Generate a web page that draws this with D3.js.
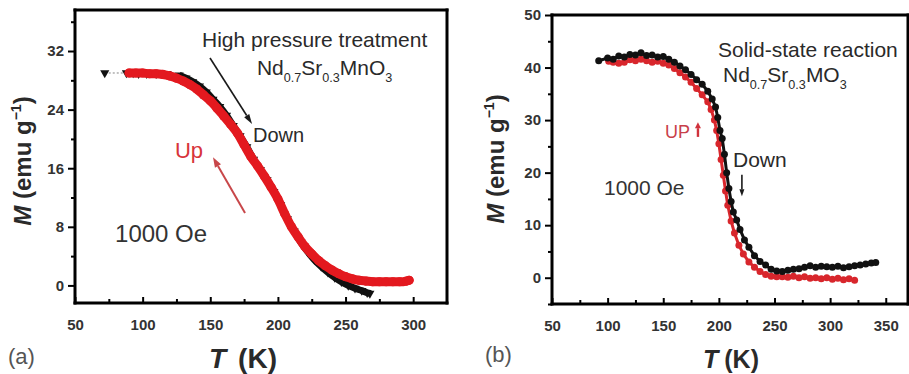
<!DOCTYPE html>
<html>
<head>
<meta charset="utf-8">
<script src="https://cdn.jsdelivr.net/npm/d3@7"></script>
<style>
  html, body { margin: 0; padding: 0; background: #fff; }
  svg { display: block; }
  text { font-family: 'Liberation Sans', Arial, sans-serif; }
</style>
</head>
<body>
<svg id="chart" width="909" height="374"></svg>
<script>
// ---- panel (a): high pressure treatment ----
var upTa = [90, 95, 100, 105, 110, 115, 120, 125, 130, 135, 140, 145, 150, 155, 160, 165, 170, 175, 180, 185,
  190, 195, 200, 205, 210, 215, 220, 225, 230, 235, 240, 245, 250, 255, 260, 265, 270, 275, 280, 285, 290, 295, 297];
var upMa = [29.0, 29.0, 29.0, 28.9, 28.9, 28.8, 28.6, 28.3, 27.9, 27.4, 26.8, 26.0, 25.2, 24.2, 23.1, 22.0, 20.8, 19.2, 17.6, 16.3,
  14.9, 13.4, 11.8, 9.8, 8.0, 6.6, 5.3, 4.3, 3.4, 2.7, 2.1, 1.6, 1.2, 0.9, 0.7, 0.6, 0.5, 0.5, 0.5, 0.5, 0.5, 0.6, 0.7];
var downTa = [72, 88, 93, 97, 103, 110, 118, 127, 132, 137, 142, 147, 152, 157, 162, 167, 172, 177, 182, 187,
  192, 197, 202, 207, 212, 217, 222, 227, 232, 237, 242, 247, 252, 257, 262, 266, 268];
var downMa = [29.0, 29.0, 29.0, 28.9, 28.9, 28.9, 28.9, 28.7, 28.3, 27.8, 27.2, 26.4, 25.4, 24.4, 23.2, 21.8, 20.4, 18.9, 17.2, 15.8,
  14.4, 12.8, 11.0, 9.1, 7.4, 5.9, 4.6, 3.5, 2.6, 1.8, 1.1, 0.5, 0.0, -0.4, -0.7, -1.0, -1.1];
var xTicksA = [50, 100, 150, 200, 250, 300];
var yTicksA = [0, 8, 16, 24, 32];

// ---- panel (b): solid-state reaction ----
var upTb = [101, 105, 110, 115, 120, 125, 130, 135, 140, 145, 150, 155, 160, 165, 170, 175, 180, 185, 190, 193,
  196, 198, 200, 202, 204, 206, 208, 211, 214, 218, 222, 227, 232, 237, 242, 247, 252, 257, 262, 267,
  272, 277, 282, 287, 292, 297, 302, 307, 312, 317, 322];
var upMb = [41.2, 41.0, 40.8, 41.0, 41.5, 41.3, 41.6, 41.3, 41.0, 41.2, 40.8, 40.5, 39.8, 39.0, 38.2, 37.2, 36.0, 34.8, 33.5, 32.0,
  30.0, 28.0, 25.5, 22.5, 19.5, 16.5, 13.8, 10.8, 8.5, 6.2, 4.5, 3.0, 2.0, 1.2, 0.6, 0.3, 0.2, 0.2, 0.1, 0.3,
  0.0, 0.2, -0.1, 0.0, -0.2, 0.0, -0.3, -0.1, -0.4, -0.2, -0.5];
var downTb = [92, 100, 105, 110, 115, 120, 125, 130, 135, 140, 145, 150, 155, 160, 165, 170, 175, 180, 185, 190,
  194, 197, 199, 201, 203, 205, 207, 209, 211, 213, 216, 219, 223, 227, 232, 237, 242, 247, 252, 257,
  262, 267, 272, 277, 282, 287, 292, 297, 302, 307, 312, 317, 322, 327, 332, 337, 341];
var downMb = [41.3, 41.8, 41.6, 42.2, 42.0, 42.5, 42.4, 42.8, 42.3, 42.4, 42.0, 42.1, 41.6, 41.0, 40.3, 39.6, 38.7, 37.7, 36.8, 35.5,
  34.0, 32.5, 30.5, 28.0, 26.5, 23.5, 20.0, 17.0, 14.5, 12.5, 11.0, 9.2, 7.2, 5.8, 4.2, 3.1, 2.4, 1.6, 1.3, 1.2,
  1.4, 1.6, 1.7, 2.0, 2.3, 2.0, 2.2, 2.1, 2.0, 2.2, 1.9, 2.1, 2.3, 2.4, 2.6, 2.8, 2.9];
var xTicksB = [50, 100, 150, 200, 250, 300, 350];
var yTicksB = [0, 10, 20, 30, 40, 50];

var RED = "#e3191f", RED_B = "#d8262c", INK = "#2a2a2a";

var svg = d3.select("#chart");

function zip(T, M) { return T.map(function (t, i) { return { t: t, m: M[i] }; }); }

function arrow(g, x1, y1, x2, y2, color, w, hl, hw) {
  var a = Math.atan2(y2 - y1, x2 - x1);
  var bx = x2 - hl * Math.cos(a), by = y2 - hl * Math.sin(a);
  g.append("line").attr("x1", x1).attr("y1", y1).attr("x2", bx).attr("y2", by)
    .attr("stroke", color).attr("stroke-width", w);
  var px = -Math.sin(a) * hw / 2, py = Math.cos(a) * hw / 2;
  g.append("path").attr("fill", color)
    .attr("d", "M" + x2 + "," + y2 + "L" + (bx + px) + "," + (by + py) + "L" + (bx - px) + "," + (by - py) + "Z");
}

function formula(g, x, y, size, parts) {
  // parts: [text, isSub, dy]
  var t = g.append("text").attr("x", x).attr("y", y).attr("font-size", size).attr("fill", INK);
  parts.forEach(function (p) {
    if (p[1]) t.append("tspan").attr("font-size", size * 0.6).attr("dy", 7).text(p[0]);
    else t.append("tspan").attr("dy", p[2] || 0).text(p[0]);
  });
  return t;
}

function axes(g, x, y, xTicks, yTicks, xMinor, yMinor) {
  var X = x.range(), Y = y.range();
  var ax = g.append("g").attr("transform", "translate(0," + Y[0] + ")")
    .call(d3.axisBottom(x).tickValues(xTicks).tickSizeInner(-6).tickSizeOuter(0).tickPadding(16).tickFormat(d3.format("d")));
  ax.append("g").call(d3.axisBottom(x).tickValues(xMinor).tickSizeInner(-4).tickSizeOuter(0).tickFormat(""));
  var ay = g.append("g").attr("transform", "translate(" + X[0] + ",0)")
    .call(d3.axisLeft(y).tickValues(yTicks).tickSizeInner(7).tickSizeOuter(0).tickPadding(4).tickFormat(d3.format("d")));
  ay.append("g").call(d3.axisLeft(y).tickValues(yMinor).tickSizeInner(4).tickSizeOuter(0).tickFormat(""));

  g.selectAll(".domain").remove();
  g.selectAll(".tick line").attr("stroke", "#000").attr("stroke-width", 2);
  g.selectAll(".tick text").attr("font-size", 15).attr("font-weight", "bold").attr("fill", "#333")
    .attr("font-family", "'Liberation Sans', Arial, sans-serif");

  // frame as four filled bars, 3px thick
  var t = 3;
  var bars = [
    [X[0] - t / 2, Y[1] - t / 2, X[1] - X[0] + t, t],
    [X[0] - t / 2, Y[0] - t / 2, X[1] - X[0] + t, t],
    [X[0] - t / 2, Y[1] - t / 2, t, Y[0] - Y[1] + t],
    [X[1] - t / 2, Y[1] - t / 2, t, Y[0] - Y[1] + t]
  ];
  g.selectAll(".bar").data(bars).enter().append("rect").attr("class", "bar")
    .attr("x", function (b) { return b[0]; }).attr("y", function (b) { return b[1]; })
    .attr("width", function (b) { return b[2]; }).attr("height", function (b) { return b[3]; })
    .attr("fill", "#000");
}

function yLabel(g, cx, cy) {
  var t = g.append("text").attr("transform", "translate(" + cx + "," + cy + ") rotate(-90)")
    .attr("text-anchor", "middle").attr("font-size", 24).attr("font-weight", "bold").attr("fill", INK);
  t.append("tspan").attr("font-style", "italic").text("M");
  t.append("tspan").text(" (emu g");
  t.append("tspan").attr("font-size", 14).attr("dy", -10).text("\u22121");
  t.append("tspan").attr("dy", 10).text(")");
}

function xLabel(g, cx, cy, size, gap) {
  var t = g.append("text").attr("x", cx).attr("y", cy).attr("text-anchor", "middle")
    .attr("font-size", size).attr("font-weight", "bold").attr("fill", INK);
  t.append("tspan").attr("font-style", "italic").text("T");
  t.append("tspan").attr("dx", gap).text("(K)");
}

// ================= panel (a) =================
var gA = svg.append("g");
var xA = d3.scaleLinear().domain([50, 325]).range([75, 447]);
var yA = d3.scaleLinear().domain([-2.4, 37.6]).range([303, 10]);

var downA = zip(downTa, downMa), upA = zip(upTa, upMa);
var lineA = d3.line().x(function (d) { return xA(d.t); }).y(function (d) { return yA(d.m); }).curve(d3.curveMonotoneX);

gA.append("path").datum(downA.filter(function (d) { return d.t >= 127; }))
  .attr("d", lineA).attr("fill", "none").attr("stroke", "#111").attr("stroke-width", 7);
gA.append("path").datum(downA.filter(function (d) { return d.t <= 127; }))
  .attr("d", lineA).attr("fill", "none").attr("stroke", "#666").attr("stroke-width", 0.8).attr("stroke-dasharray", "2,2");
gA.selectAll(".tri").data(downA).enter().append("path")
  .attr("transform", function (d) { return "translate(" + xA(d.t) + "," + yA(d.m) + ") rotate(180)"; })
  .attr("d", d3.symbol(d3.symbolTriangle, 36)).attr("fill", "#111");

gA.append("path").datum(upA).attr("d", lineA).attr("fill", "none")
  .attr("stroke", RED).attr("stroke-width", 9).attr("stroke-linecap", "round");
gA.selectAll(".up").data(upA).enter().append("circle")
  .attr("cx", function (d) { return xA(d.t); }).attr("cy", function (d) { return yA(d.m); })
  .attr("r", 4.6).attr("fill", RED);

axes(gA, xA, yA, xTicksA, yTicksA, [75, 125, 175, 225, 275], [4, 12, 20, 28, 36]);

gA.append("text").attr("x", xA(143.9)).attr("y", yA(32.55)).attr("font-size", 21).attr("fill", INK)
  .text("High pressure treatment");
formula(gA, xA(184.5), yA(28.7), 21, [["Nd"], ["0.7", 1], ["Sr", 0, -7], ["0.3", 1], ["MnO", 0, -7], ["3", 1]]);
arrow(gA, xA(149.8), yA(31.05), xA(180.9), yA(22.04), "#1a1a1a", 1.6, 10, 6);
gA.append("text").attr("x", xA(181.6)).attr("y", yA(19.6)).attr("font-size", 20).attr("fill", INK).text("Down");
gA.append("text").attr("x", xA(123.9)).attr("y", yA(17.4)).attr("font-size", 22).attr("fill", "#d8343a").text("Up");
arrow(gA, xA(175.7), yA(9.9), xA(152), yA(17.5), "#c8474a", 2, 10, 7);
gA.append("text").attr("x", xA(79.6)).attr("y", yA(5.9)).attr("font-size", 24).attr("fill", "#333").text("1000 Oe");

yLabel(gA, 31, 161);
xLabel(gA, 243, 368, 28, 12);
gA.append("text").attr("x", 8).attr("y", 364).attr("font-size", 22).attr("fill", "#555")
  .attr("font-family", "'Liberation Serif', 'Times New Roman', serif").text("(a)");

// ================= panel (b) =================
var gB = svg.append("g");
var xB = d3.scaleLinear().domain([50, 370]).range([552, 908]);
var yB = d3.scaleLinear().domain([-5, 50]).range([304, 15]);

var downB = zip(downTb, downMb), upB = zip(upTb, upMb);
var lineB = d3.line().x(function (d) { return xB(d.t); }).y(function (d) { return yB(d.m); });

gB.append("path").datum(upB).attr("d", lineB).attr("fill", "none").attr("stroke", RED_B).attr("stroke-width", 3);
gB.selectAll(".upb").data(upB).enter().append("circle")
  .attr("cx", function (d) { return xB(d.t); }).attr("cy", function (d) { return yB(d.m); })
  .attr("r", 3.5).attr("fill", RED_B);
gB.append("path").datum(downB).attr("d", lineB).attr("fill", "none").attr("stroke", "#111").attr("stroke-width", 3);
gB.selectAll(".dnb").data(downB).enter().append("circle")
  .attr("cx", function (d) { return xB(d.t); }).attr("cy", function (d) { return yB(d.m); })
  .attr("r", 3.5).attr("fill", "#111");

axes(gB, xB, yB, xTicksB, yTicksB, [75, 125, 175, 225, 275, 325], [-5, 5, 15, 25, 35, 45]);

gB.append("text").attr("x", xB(199.2)).attr("y", yB(42.0)).attr("font-size", 21).attr("fill", INK)
  .text("Solid-state reaction");
formula(gB, xB(203.7), yB(37.25), 21, [["Nd"], ["0.7", 1], ["Sr", 0, -7], ["0.3", 1], ["MO", 0, -7], ["3", 1]]);
gB.append("text").attr("x", xB(151.5)).attr("y", yB(26.6)).attr("font-size", 18).attr("fill", "#c8404a").text("UP");
arrow(gB, xB(181.2), yB(26.8), xB(181.2), yB(29.6), "#d0323c", 2.4, 6, 6);
gB.append("text").attr("x", xB(212.7)).attr("y", yB(21.1)).attr("font-size", 21).attr("fill", INK).text("Down");
arrow(gB, xB(220.7), yB(19.6), xB(220.7), yB(15.5), "#1a1a1a", 1.6, 7, 5);
gB.append("text").attr("x", xB(96.7)).attr("y", yB(15.7)).attr("font-size", 21).attr("fill", "#333").text("1000 Oe");

yLabel(gB, 504, 159);
xLabel(gB, 731, 368, 25, 6);
gB.append("text").attr("x", 485).attr("y", 362).attr("font-size", 22).attr("fill", "#555")
  .attr("font-family", "'Liberation Serif', 'Times New Roman', serif").text("(b)");
</script>
</body>
</html>
